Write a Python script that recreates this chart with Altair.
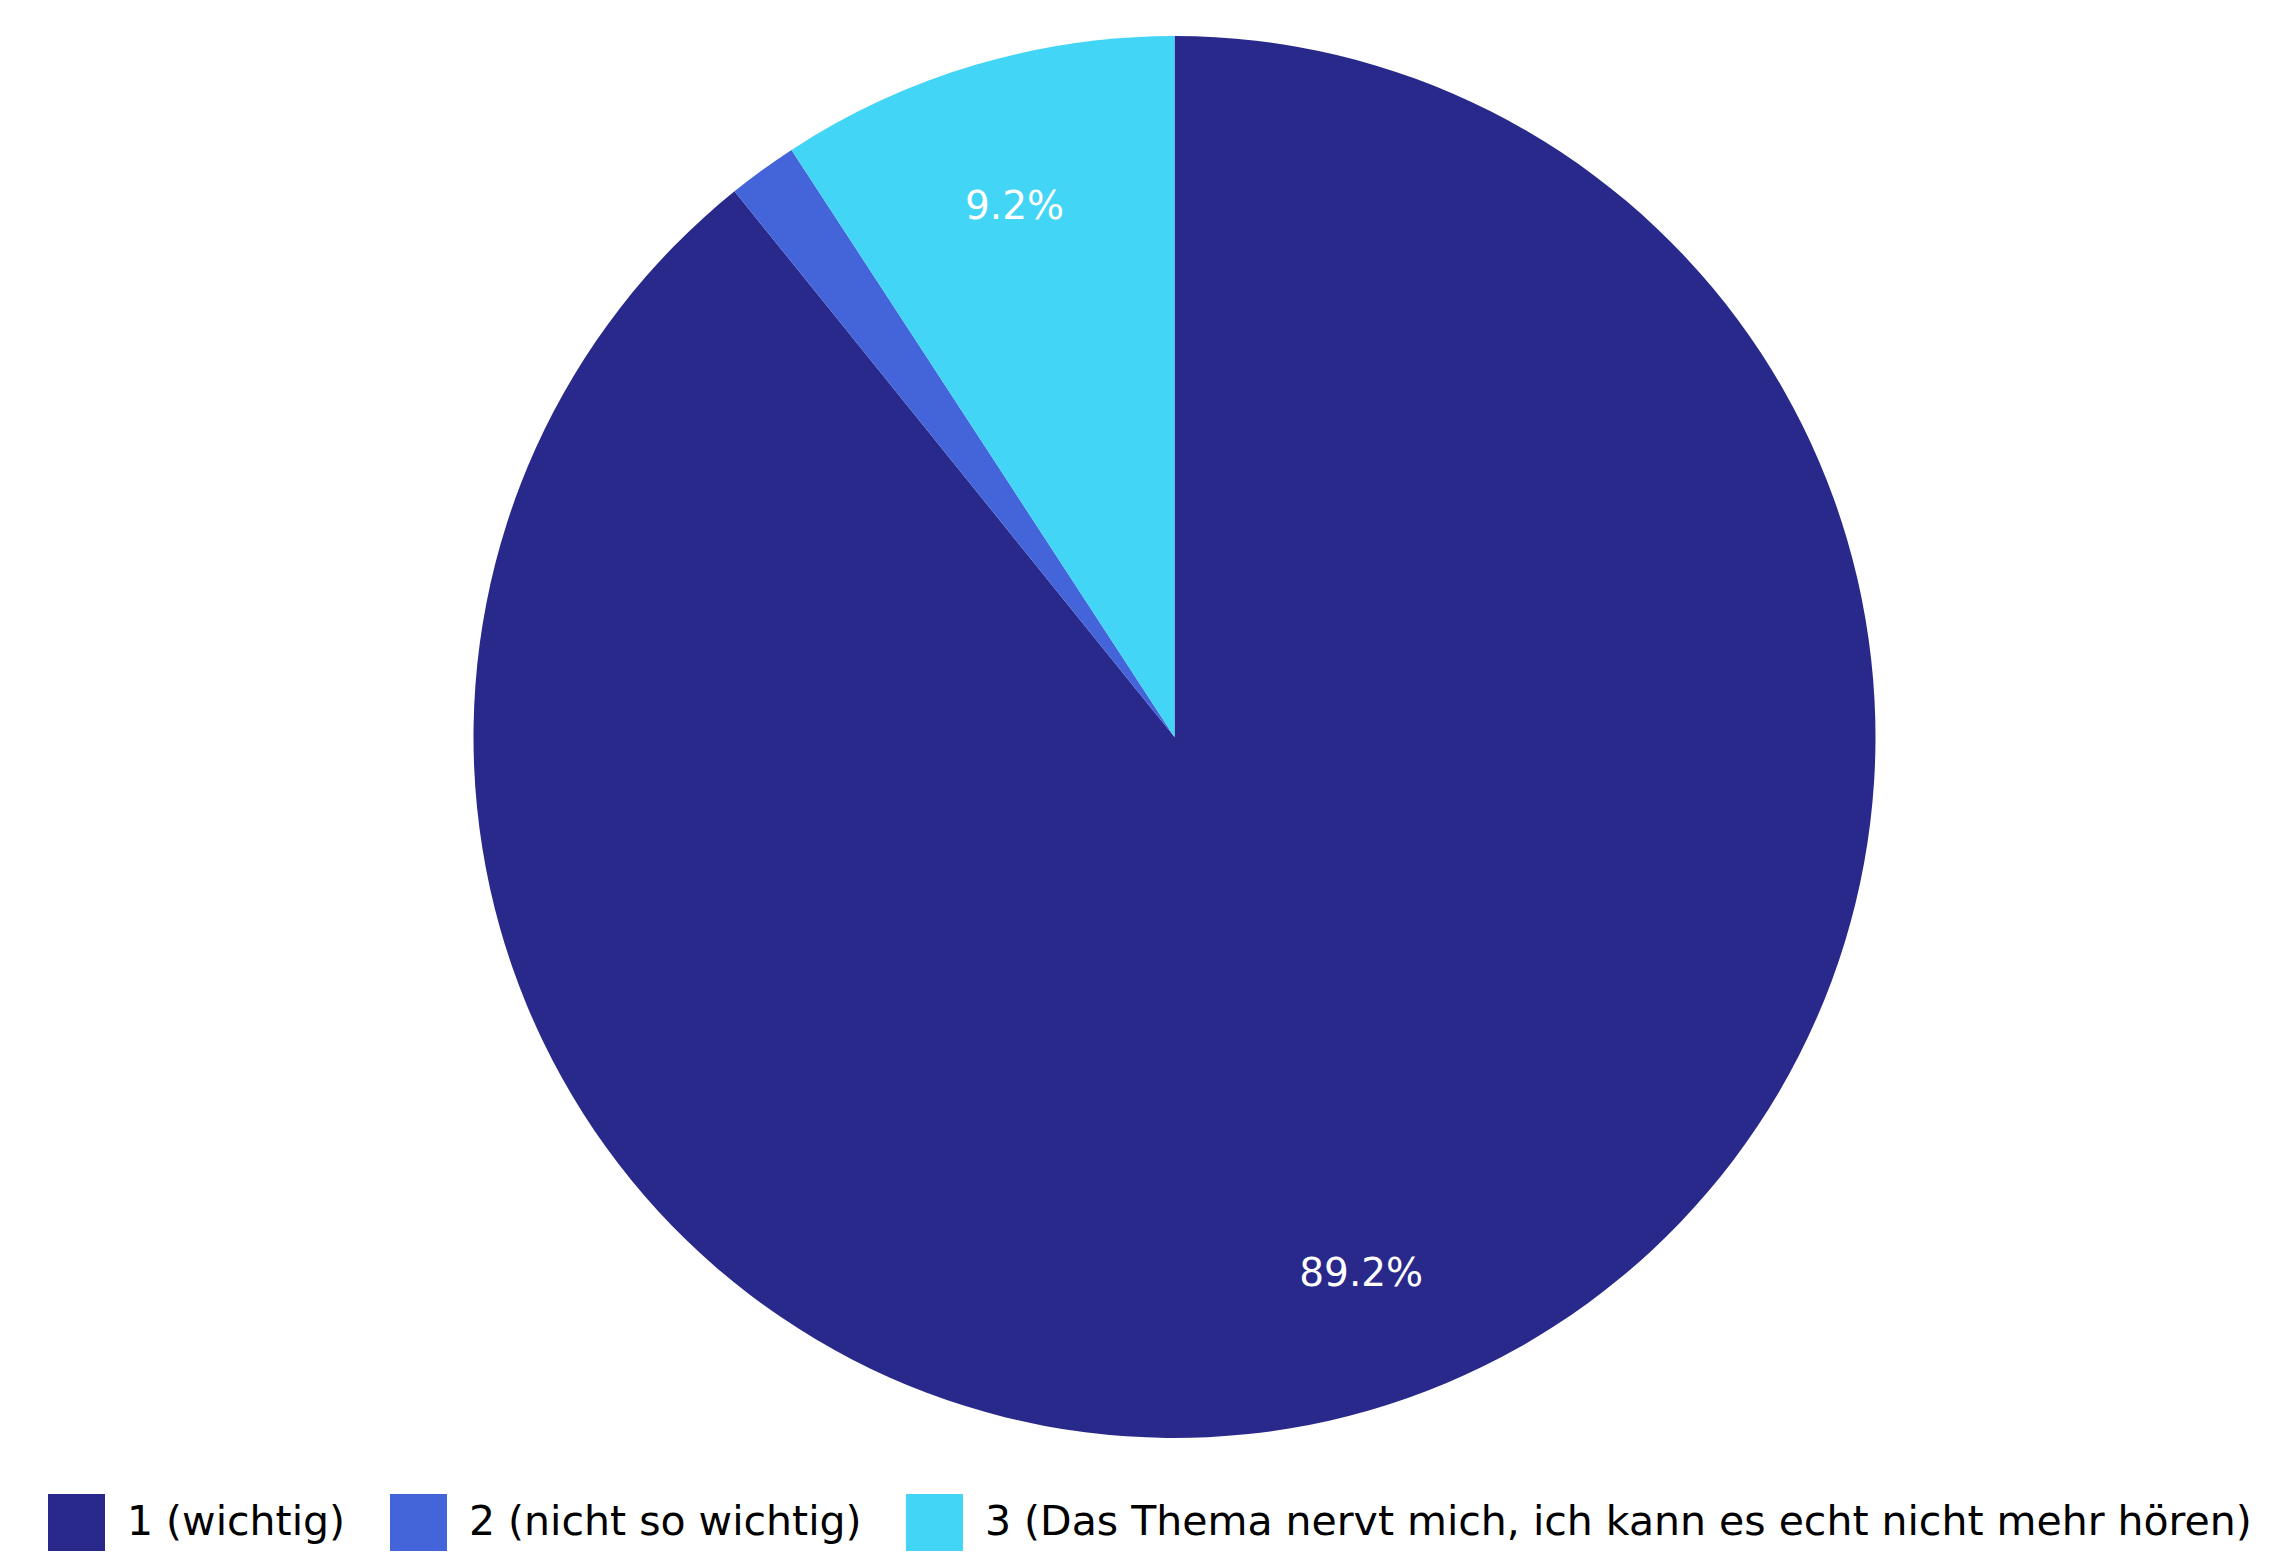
import altair as alt
import pandas as pd

categories = [
    "1 (wichtig)",
    "2 (nicht so wichtig)",
    "3 (Das Thema nervt mich, ich kann es echt nicht mehr hören)",
]
values = [89.2, 1.6, 9.2]
colors = ["#29298b", "#4465da", "#43d5f5"]

df = pd.DataFrame({
    "category": categories,
    "value": values,
    "order": list(range(len(categories))),
    "label": [f"{v}%" if v >= 5 else "" for v in values],
})

CX, CY, R = 1174.5, 737, 701

base = alt.Chart(df).encode(
    theta=alt.Theta("value:Q", stack=True),
    order=alt.Order("order:Q", sort="ascending"),
)

arcs = base.mark_arc(stroke=None, x=CX, y=CY).encode(
    color=alt.Color(
        "category:N",
        scale=alt.Scale(domain=categories, range=colors),
        sort=categories,
        legend=alt.Legend(
            orient="none",
            legendX=48,
            legendY=1494,
            direction="horizontal",
            title=None,
            symbolType="square",
            symbolSize=3249,
            symbolStrokeWidth=0,
            symbolOpacity=1,
            labelFontSize=41,
            labelFont="DejaVu Sans",
            labelColor="#000000",
            labelOffset=22,
            columnPadding=44,
            padding=0,
            labelLimit=2000,
        ),
    ),
    radius=alt.value(R),
)

text = base.mark_text(
    radius=561, fontSize=39, font="DejaVu Sans", color="white", x=CX, y=CY, dy=8
).encode(text="label:N")

chart = (
    alt.layer(arcs, text)
    .properties(width=2271, height=1566, autosize=alt.AutoSizeParams(type="none"), padding=0)
    .configure_view(stroke=None)
)

chart.save("out.html", embed_options={"renderer": "svg", "actions": False})
